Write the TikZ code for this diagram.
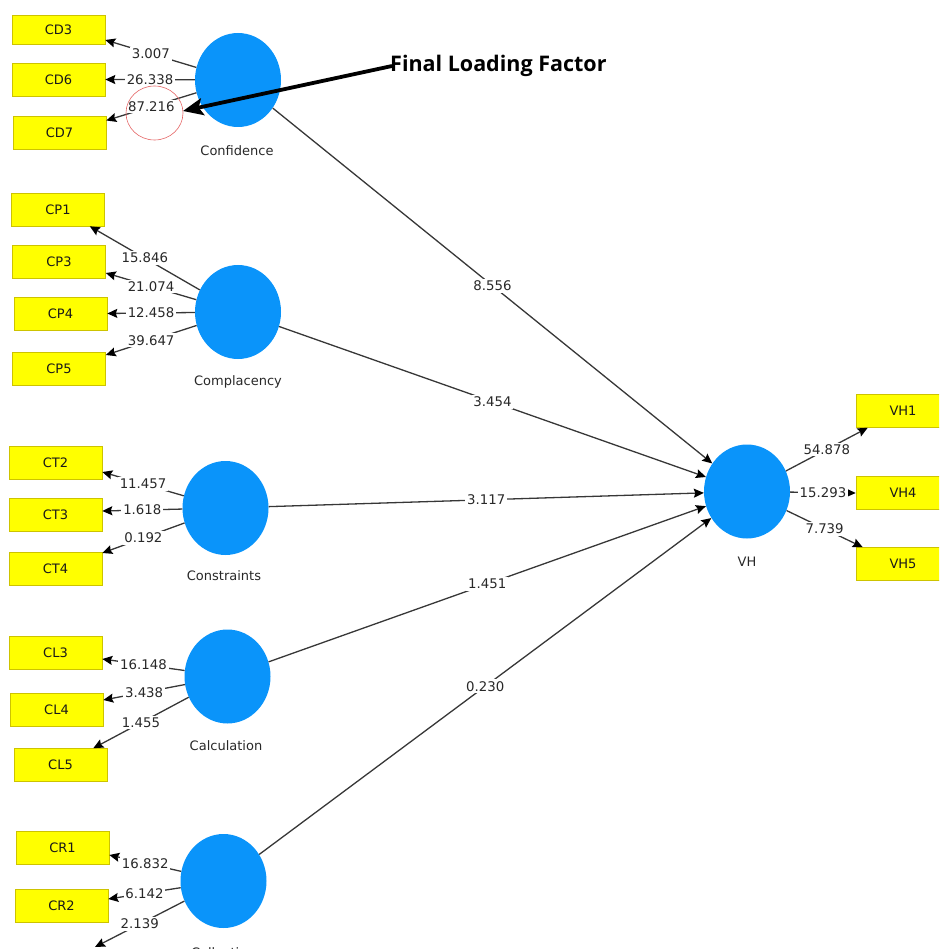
\documentclass[tikz,border=0pt]{standalone}
\usepackage{fontspec}
\setmainfont{DejaVu Sans}
\newfontfamily\flffont{Open Sans}
\usetikzlibrary{arrows.meta,shapes.geometric}
\definecolor{latblue}{RGB}{10,148,250}
\definecolor{indyel}{RGB}{255,255,0}
\definecolor{indedge}{RGB}{205,195,0}
\definecolor{linegray}{RGB}{55,55,55}
\definecolor{txtgray}{RGB}{40,40,40}
\definecolor{circred}{RGB}{228,100,100}
\begin{document}
\begin{tikzpicture}[x=1pt,y=-1pt,
  latent/.style={ellipse, fill=latblue, draw=none, minimum width=86pt, minimum height=94pt, inner sep=0pt},
  indicator/.style={rectangle, draw=indedge, line width=0.6pt, fill=indyel, minimum width=93pt, minimum height=33pt, inner sep=0pt, font=\fontsize{13}{15}\selectfont, text=black!90},
  lbl/.style={fill=white, inner sep=1.8pt, font=\fontsize{13.3}{15}\selectfont, text=txtgray},
  conn/.style={draw=linegray, line width=1.3pt, -{Stealth[length=10pt,width=9pt,inset=1.5pt,color=black]}},
  latlabel/.style={font=\fontsize{13}{15}\selectfont, text=txtgray},
  bigarrow/.style={draw=black, line width=3.8pt, -{Stealth[length=20pt,width=17pt,inset=4pt]}}
]
\useasboundingbox (0,0) rectangle (939,949);
\clip (0,0) rectangle (939,949);

% latent variables
\node[latent] (conf) at (238,80) {};
\node[latent] (comp) at (238,312) {};
\node[latent] (cons) at (225.5,508) {};
\node[latent] (calc) at (227.5,676.5) {};
\node[latent] (coll) at (223.5,881) {};
\node[latent] (vh) at (747,491.5) {};

\node[latlabel] (confl) at (237,151) {Confidence};
\node[latlabel] (compl) at (238,382) {Complacency};
\node[latlabel] (consl) at (224,576) {Constraints};
\node[latlabel] (calcl) at (226,746) {Calculation};
\node[latlabel] (colll) at (223,953) {Collective};
\node[latlabel] (vhl) at (747,562) {VH};

% indicators
\node[indicator, minimum height=29pt] (cd3) at (58.5,29.5) {CD3};
\node[indicator] (cd6) at (58.5,79.5) {CD6};
\node[indicator] (cd7) at (59.5,132.5) {CD7};
\node[indicator] (cp1) at (58,209.5) {CP1};
\node[indicator] (cp3) at (59,261.5) {CP3};
\node[indicator] (cp4) at (60.5,313.5) {CP4};
\node[indicator] (cp5) at (59,368.5) {CP5};
\node[indicator] (ct2) at (55.5,463) {CT2};
\node[indicator] (ct3) at (55.5,515) {CT3};
\node[indicator] (ct4) at (55.5,568.5) {CT4};
\node[indicator] (cl3) at (55.5,652.5) {CL3};
\node[indicator] (cl4) at (56.5,710) {CL4};
\node[indicator] (cl5) at (60.5,765) {CL5};
\node[indicator] (cr1) at (62.5,847.5) {CR1};
\node[indicator] (cr2) at (61.5,905.5) {CR2};
\coordinate (cr3tip) at (95,947);
\node[indicator, minimum width=94pt] (vh1) at (903,411) {VH1};
\node[indicator, minimum width=94pt] (vh4) at (903,493) {VH4};
\node[indicator, minimum width=94pt] (vh5) at (903,564) {VH5};

% outer loadings
\draw[conn] (conf) -- ([yshift=-10.5pt]cd3.east) node[lbl, midway] {3.007};
\draw[conn] (conf) -- (cd6.east) node[lbl, midway] {26.338};
\draw[conn] (conf) -- ([yshift=12pt]cd7.east) node[lbl, midway] {87.216};
\draw[conn] (comp) -- ([xshift=-15pt]cp1.south east) node[lbl, midway] {15.846};
\draw[conn] (comp) -- ([yshift=-11.5pt]cp3.east) node[lbl, midway] {21.074};
\draw[conn] (comp) -- (cp4.east) node[lbl, midway] {12.458};
\draw[conn] (comp) -- ([yshift=13.5pt]cp5.east) node[lbl, midway] {39.647};
\draw[conn] (cons) -- ([yshift=-9pt]ct2.east) node[lbl, midway] {11.457};
\draw[conn] (cons) -- ([yshift=4pt]ct3.east) node[lbl, midway] {1.618};
\draw[conn] (cons) -- ([yshift=15.5pt]ct4.east) node[lbl, midway] {0.192};
\draw[conn] (calc) -- ([yshift=-6.5pt]cl3.east) node[lbl, midway] {16.148};
\draw[conn] (calc) -- ([yshift=10pt]cl4.east) node[lbl, midway] {3.438};
\draw[conn] (calc) -- ([xshift=-14pt]cl5.north east) node[lbl, midway] {1.455};
\draw[conn] (coll) -- ([yshift=-7.5pt]cr1.east) node[lbl, midway] {16.832};
\draw[conn] (coll) -- ([yshift=6.5pt]cr2.east) node[lbl, midway] {6.142};
\draw[conn] (coll) -- (cr3tip) node[lbl, midway] {2.139};
\draw[conn] (vh) -- ([xshift=12pt]vh1.south west) node[lbl, midway] {54.878};
\draw[conn] (vh) -- (vh4.west) node[lbl, midway] {15.293};
\draw[conn] (vh) -- ([xshift=7pt]vh5.north west) node[lbl, midway] {7.739};

% structural paths
\draw[conn] (conf) -- (vh) node[lbl, midway] {8.556};
\draw[conn] (comp) -- (vh) node[lbl, midway] {3.454};
\draw[conn] (cons) -- (vh) node[lbl, midway] {3.117};
\draw[conn] (calc) -- (vh) node[lbl, midway] {1.451};
\draw[conn] (coll) -- (vh) node[lbl, midway] {0.230};

% annotation
\draw[circred, line width=0.6pt] (154.5,113) ellipse [x radius=28.5pt, y radius=27pt];
\node[anchor=west, inner sep=0pt, font=\flffont\bfseries\fontsize{21.5}{24}\selectfont] (flf) at (390,66) {Final Loading Factor};
\coordinate (flftip) at (183,111);
\draw[bigarrow] ([xshift=2pt]flf.west) -- (flftip);
\end{tikzpicture}
\end{document}
